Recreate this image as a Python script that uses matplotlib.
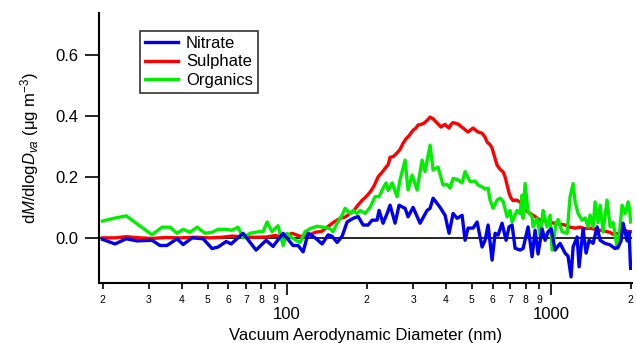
import matplotlib
matplotlib.use("Agg")
import matplotlib.pyplot as plt
from matplotlib.ticker import FixedLocator, FixedFormatter

plt.rcParams['font.family'] = ['Liberation Sans', 'DejaVu Sans']
plt.rcParams['mathtext.fontset'] = 'custom'
plt.rcParams['mathtext.rm'] = 'Liberation Sans'
plt.rcParams['mathtext.it'] = 'Liberation Sans:italic'

# ---------------- data ----------------
sul_d = [20, 22.3, 24.6, 27.75, 30.8, 34.5, 39.3, 44.8, 51.1, 56.7, 61.9, 68.1, 75.7, 84.0,
         90.1, 96.6, 104.5, 112, 120.2, 127.7, 135.8, 141.8, 149.4, 158.8, 165.9, 173.3,
         179.4, 184.2, 192.4, 199.2, 206.3, 213.5, 221.2, 229.1, 235.1, 241.5, 245.6, 252,
         258.8, 267.9, 275, 282.4, 289.9, 300.1, 308.1, 313.5, 321.8, 330.3, 339.1, 348.1,
         357.3, 366.8, 376.5, 383.1, 389.8, 396.7, 403.7, 410.8, 418, 425.4, 436.7, 444.3,
         456.2, 464.1, 476.5, 484.8, 497.7, 506.4, 519.9, 528.9, 538.3, 547.8, 562.3, 572.3,
         587.4, 597.8, 613.6, 624.5, 640.9, 657.9, 669.5, 681.4, 693.2, 705.5, 717.8, 736.9,
         763.1, 783.2, 797.1, 818.1, 839.9, 869.7, 908.5, 949, 991.3, 1035.6, 1081.7, 1130,
         1180, 1233, 1288, 1345, 1405, 1468, 1533, 1601, 1673, 1718, 1762, 1809, 1857, 1907,
         1959, 2000]
sulphate = [0.0, 0.0, 0.004, 0.0, -0.002, 0.001, 0.0, 0.002, 0.0, 0.002, 0.006, 0.003, 0.002, 0.003,
            0.008, 0.002, 0.015, 0.005, 0.008, 0.018, 0.022, 0.035, 0.05, 0.064, 0.068, 0.08,
            0.09, 0.104, 0.123, 0.135, 0.15, 0.17, 0.2, 0.215, 0.228, 0.24, 0.264, 0.266,
            0.275, 0.29, 0.31, 0.325, 0.335, 0.353, 0.36, 0.37, 0.372, 0.376, 0.385, 0.396,
            0.39, 0.38, 0.37, 0.363, 0.368, 0.372, 0.365, 0.36, 0.372, 0.378, 0.375, 0.373,
            0.365, 0.36, 0.352, 0.347, 0.355, 0.36, 0.352, 0.347, 0.345, 0.343, 0.33, 0.314,
            0.305, 0.294, 0.26, 0.238, 0.225, 0.216, 0.2, 0.173, 0.147, 0.13, 0.122, 0.124,
            0.118, 0.1, 0.09, 0.085, 0.078, 0.07, 0.058, 0.055, 0.05, 0.048, 0.045, 0.042,
            0.035, 0.032, 0.035, 0.03, 0.032, 0.028, 0.025, 0.022, 0.018, 0.012, 0.015, 0.012,
            0.02, 0.025, 0.02, 0.02]

nit_d = [20, 22.3, 24.6, 27.0, 30.8, 33.0, 35.1, 38.3, 40.4, 43.7, 48.1, 52.0, 54.8, 58.8,
         61.4, 68.1, 76.3, 83.3, 88.5, 96.6, 105.3, 110.1, 115, 120.2, 127.7, 135.8, 143.1,
         148.1, 154.7, 161.6, 168.8, 177.9, 185.9, 194.1, 202.7, 210, 219.2, 223.1, 231,
         239.3, 245.6, 256.5, 265.6, 275, 279.9, 287.3, 300.1, 319, 339.1, 348.1, 357.3,
         370, 379.8, 396.7, 410.8, 425.4, 440.6, 460.2, 472.3, 484.8, 506.4, 524.5, 547.8,
         562.3, 577.2, 597.8, 613.6, 629.8, 652.2, 675.4, 693.2, 711.7, 730.5, 763.1, 783.2,
         818.1, 847.3, 869.7, 892.7, 924.6, 949, 974.1, 1000, 1035.6, 1081.7, 1130, 1159.5,
         1190.4, 1211.5, 1254.8, 1276.8, 1321.6, 1356.8, 1392.8, 1442.5, 1494, 1533, 1601,
         1673, 1747, 1794, 1841, 1874, 1941, 1975, 2000]
nitrate = [-0.005, -0.02, -0.003, -0.01, -0.008, -0.025, -0.025, -0.003, -0.022, 0.0, -0.003,
           -0.035, -0.03, -0.012, -0.02, 0.015, -0.04, -0.008, -0.028, 0.015, -0.025, -0.025,
           -0.046, 0.015, 0.0, -0.02, 0.01, 0.005, -0.015, 0.005, 0.052, 0.064, 0.07, 0.042,
           0.042, 0.058, 0.058, 0.09, 0.048, 0.08, 0.107, 0.048, 0.107, 0.1, 0.097, 0.069, 0.1,
           0.048, 0.09, 0.097, 0.13, 0.113, 0.1, 0.074, 0.015, 0.08, 0.064, 0.074, -0.008,
           0.032, 0.032, 0.052, -0.03, -0.008, 0.042, -0.073, 0.015, 0.009, 0.048, -0.008,
           0.036, 0.042, -0.034, -0.04, -0.035, 0.036, -0.062, 0.025, -0.053, 0.03, -0.008,
           0.02, 0.03, -0.04, -0.018, -0.05, -0.06, -0.128, -0.03, 0.003, -0.095, 0.03, -0.05,
           -0.008, -0.018, 0.036, -0.008, -0.018, -0.023, -0.035, -0.03, -0.01, 0.048, -0.01,
           0.02, -0.1]

org_d = [20, 22.3, 24.6, 30.8, 33.6, 36.04, 38.3, 40.4, 42.91, 45.6, 48.92, 52.0, 54.8, 58.24,
         61.9, 65.2, 68.1, 72.42, 77.7, 81.1, 84.0, 87.7, 92.4, 96.6, 100, 104.5, 109.1, 112,
         117, 122.2, 130, 137, 145.5, 149.4, 154.7, 161.6, 165.9, 173.3, 177.9, 184.2, 189.1,
         197.5, 206.3, 215.4, 223.1, 231, 237.2, 241.5, 250, 261, 267.9, 279.9, 287.3, 297.6,
         310.8, 324.7, 333.2, 348.1, 357.3, 373.2, 389.8, 403.7, 414.4, 425.4, 444.3, 460.2,
         472.3, 493.4, 515.4, 528.9, 547.8, 562.3, 577.2, 587.4, 603, 624.5, 640.9, 657.9,
         681.4, 699.3, 711.7, 743.4, 763.1, 776.6, 783.2, 797.1, 818.1, 847.3, 854.6, 885.1,
         908.5, 932.5, 965.8, 991.3, 1008.8, 1044.7, 1062.9, 1100.8, 1150, 1180, 1211.5, 1233,
         1265.6, 1310.8, 1345, 1380.6, 1405, 1442.5, 1468, 1506.3, 1533, 1573.2, 1629.3, 1673,
         1718, 1777.5, 1794, 1857, 1907, 1959, 1985, 2000]
organics = [0.055, 0.065, 0.072, 0.01, 0.035, 0.035, 0.015, 0.028, 0.018, 0.035, 0.015, 0.018,
            0.028, 0.028, 0.025, 0.035, 0.0, 0.015, 0.02, 0.02, 0.052, 0.02, 0.04, -0.025, 0.015,
            0.0, -0.01, -0.015, 0.02, 0.03, 0.038, 0.035, 0.03, 0.02, 0.048, 0.074, 0.097, 0.08,
            0.09, 0.08, 0.09, 0.08, 0.1, 0.135, 0.135, 0.163, 0.18, 0.155, 0.18, 0.135, 0.19,
            0.255, 0.157, 0.205, 0.157, 0.255, 0.217, 0.304, 0.222, 0.232, 0.173, 0.175, 0.163,
            0.195, 0.19, 0.18, 0.217, 0.184, 0.186, 0.173, 0.167, 0.16, 0.163, 0.124, 0.097,
            0.124, 0.13, 0.12, 0.069, 0.09, 0.052, 0.09, 0.08, 0.14, 0.064, 0.178, 0.085, 0.07,
            0.036, 0.064, 0.009, 0.09, 0.036, 0.074, -0.04, 0.048, 0.06, 0.02, 0.015, 0.134,
            0.178, 0.118, 0.08, 0.058, 0.065, 0.036, 0.075, 0.036, 0.118, 0.05, 0.107, 0.02,
            0.124, 0.036, 0.05, -0.03, -0.035, 0.107, 0.08, 0.118, 0.09, 0.052]

minor_ticks = [20, 30, 40, 50, 60, 70, 80, 90, 200, 300, 400, 500, 600, 700, 800, 900, 2000]
minor_labels = ['2', '3', '4', '5', '6', '7', '8', '9', '2', '3', '4', '5', '6', '7', '8', '9', '2']
major_ticks = [100, 1000]
major_labels = ['100', '1000']
y_ticks = [0.0, 0.2, 0.4, 0.6]
y_labels = ['0.0', '0.2', '0.4', '0.6']

# ---------------- plot ----------------
fig = plt.figure(figsize=(6.36, 3.43), dpi=100)
ax = fig.add_axes([0.1557, 0.1749, 0.8380, 0.7871])

ax.axhline(0, color='black', lw=1.2, zorder=1)
ax.plot(sul_d, sulphate, color='#ff0000', lw=2.4, label='Sulphate', zorder=2)
ax.plot(org_d, organics, color='#00ee00', lw=2.4, label='Organics', zorder=3)
ax.plot(nit_d, nitrate, color='#0000ee', lw=2.4, label='Nitrate', zorder=4)

ax.set_xscale('log')
ax.set_xlim(19.4, 2025)
ax.set_ylim(-0.148, 0.737)

ax.xaxis.set_major_locator(FixedLocator(major_ticks))
ax.xaxis.set_major_formatter(FixedFormatter(major_labels))
ax.xaxis.set_minor_locator(FixedLocator(minor_ticks))
ax.xaxis.set_minor_formatter(FixedFormatter(minor_labels))
ax.tick_params(axis='x', which='major', length=8.5, width=1.2, pad=9, labelsize=12)
ax.tick_params(axis='x', which='minor', length=4.3, width=1.2, pad=4, labelsize=7.5)

ax.set_yticks(y_ticks)
ax.set_yticklabels(y_labels)
ax.tick_params(axis='y', which='major', length=10, width=1.2, pad=5, labelsize=12)

for s in ['top', 'right']:
    ax.spines[s].set_visible(False)
for s in ['left', 'bottom']:
    ax.spines[s].set_linewidth(1.5)

ax.set_xlabel('Vacuum Aerodynamic Diameter (nm)', fontsize=12, labelpad=4)
ax.set_ylabel(r'd$\mathit{M}$/dlog$\mathit{D}_{\mathit{va}}$ (μg m$^{-3}$)', fontsize=12, labelpad=10)

h, l = ax.get_legend_handles_labels()
order = [2, 0, 1]
leg = ax.legend([h[i] for i in order], [l[i] for i in order], loc='upper left',
                bbox_to_anchor=(0.077, 0.933), fontsize=12, frameon=True, fancybox=False,
                borderpad=0.3, labelspacing=0.2, handlelength=2.0, handletextpad=0.45,
                borderaxespad=0)
leg.get_frame().set_edgecolor('black')
leg.get_frame().set_linewidth(1.2)

fig.savefig('out.png', dpi=100)
